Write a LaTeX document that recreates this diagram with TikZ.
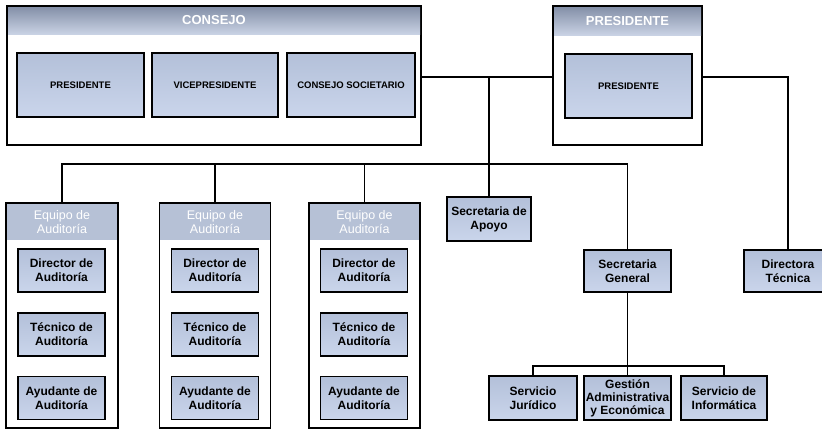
\documentclass[tikz,border=0pt]{standalone}
\usepackage{fontspec}
\setmainfont{Liberation Sans}
\usepackage{xcolor}
\usetikzlibrary{positioning,calc}

\definecolor{boxtop}{HTML}{B3C0D9}
\definecolor{boxbot}{HTML}{CAD5EB}
\definecolor{headtop}{HTML}{8490A8}
\definecolor{headbot}{HTML}{C9D2E4}
\definecolor{bandfill}{HTML}{B6C1D6}

\begin{document}
\begin{tikzpicture}[x=1pt,y=1pt,
    group/.style={draw=black, line width=1.3pt, inner sep=0pt},
    header/.style={top color=headtop, bottom color=headbot, text=white, inner sep=0pt,
        font=\fontsize{13}{15}\selectfont\bfseries},
    band/.style={fill=bandfill, text=white, inner sep=0pt, align=center,
        font=\fontsize{12.5}{14}\selectfont, minimum height=36pt},
    unit/.style={draw=black, line width=1.8pt, top color=boxtop, bottom color=boxbot,
        inner sep=0pt, align=center, font=\fontsize{12}{14}\selectfont\bfseries},
    board/.style={unit, font=\fontsize{9.5}{11}\selectfont\bfseries,
        minimum width=127pt, minimum height=64pt},
    role/.style={unit, minimum width=87pt, minimum height=43pt},
    link/.style={line width=1.3pt}]

    \path[use as bounding box, clip] (0,0) rectangle (822,-429);

    % Consejo
    \node[group, minimum width=414pt, minimum height=139pt] (consejo) at (214,-75.5) {};
    \node[header, minimum width=412pt, minimum height=27pt] (consejohead) at (214,-20.5) {CONSEJO};
    \node[board] (presidente) at (80.5,-85) {PRESIDENTE};
    \node[board, minimum width=126pt] (vice) at (215,-85) {VICEPRESIDENTE};
    \node[board, minimum width=128pt] (societario) at (351,-85) {CONSEJO SOCIETARIO};

    % Presidente
    \node[group, minimum width=149pt, minimum height=139pt] (presi) at (627.5,-75.5) {};
    \node[header, minimum width=147pt, minimum height=28pt] (presihead) at (627.5,-21) {PRESIDENTE};
    \node[board] (presidente2) at (628.5,-86) {PRESIDENTE};

    % Equipo 1
    \node[group, minimum width=112pt, minimum height=225pt] (team1) at (62,-315.5) {};
    \node[band, minimum width=110.5pt] (band1) at (62,-222) {Equipo de\\Auditoría};
    \node[role] (director1) at (61.5,-270.5) {Director de\\Auditoría};
    \node[role] (tecnico1) at (61.5,-334.5) {Técnico de\\Auditoría};
    \node[role] (ayudante1) at (61.5,-398) {Ayudante de\\Auditoría};

    % Equipo 2
    \node[group, minimum width=111pt, minimum height=225pt] (team2) at (215,-315.5) {};
    \node[band, minimum width=109.5pt] (band2) at (215,-222) {Equipo de\\Auditoría};
    \node[role] (director2) at (215,-270.5) {Director de\\Auditoría};
    \node[role] (tecnico2) at (215,-334.5) {Técnico de\\Auditoría};
    \node[role] (ayudante2) at (215,-398) {Ayudante de\\Auditoría};

    % Equipo 3
    \node[group, minimum width=111pt, minimum height=225pt] (team3) at (364.5,-315.5) {};
    \node[band, minimum width=109.5pt] (band3) at (364.5,-222) {Equipo de\\Auditoría};
    \node[role] (director3) at (364,-270.5) {Director de\\Auditoría};
    \node[role] (tecnico3) at (364,-334.5) {Técnico de\\Auditoría};
    \node[role] (ayudante3) at (364,-398) {Ayudante de\\Auditoría};

    % Secretarias
    \node[role, minimum width=84pt, minimum height=44pt] (apoyo) at (489,-219) {Secretaria de\\Apoyo};
    \node[role, minimum height=42pt] (general) at (627.5,-271) {Secretaria\\General};
    \node[role, minimum width=88pt, minimum height=42pt] (tecnica) at (788,-271) {Directora\\Técnica};

    % Servicios
    \node[role, minimum width=88pt, minimum height=44pt] (juridico) at (533,-398) {Servicio\\Jurídico};
    \node[role, minimum height=44pt, font=\fontsize{12}{13}\selectfont\bfseries] (gestion) at (627.5,-398) {Gestión\\Administrativa\\y Económica};
    \node[role, minimum width=86pt, minimum height=44pt] (informatica) at (724,-398) {Servicio de\\Informática};

    % Links
    \coordinate (tie) at (489,-77);
    \coordinate (bus) at (0,-164);
    \coordinate (sub) at (0,-366);
    \draw[link] (consejo.east |- tie) -- (presi.west |- tie);
    \draw[link] (presi.east |- tie) -| (tecnica.north);
    \draw[link] (tie) -- (apoyo.north);
    \draw[link] (team1.north) |- (general.north |- bus) -- (general.north);
    \draw[link] (team2.north) -- (team2.north |- bus);
    \draw[link] (team3.north) -- (team3.north |- bus);
    \draw[link] (general.south) -- (general.south |- sub);
    \draw[link] (juridico.north) |- (informatica.north |- sub) -- (informatica.north);
    \draw[link] (gestion.north) -- (gestion.north |- sub);

\end{tikzpicture}
\end{document}
